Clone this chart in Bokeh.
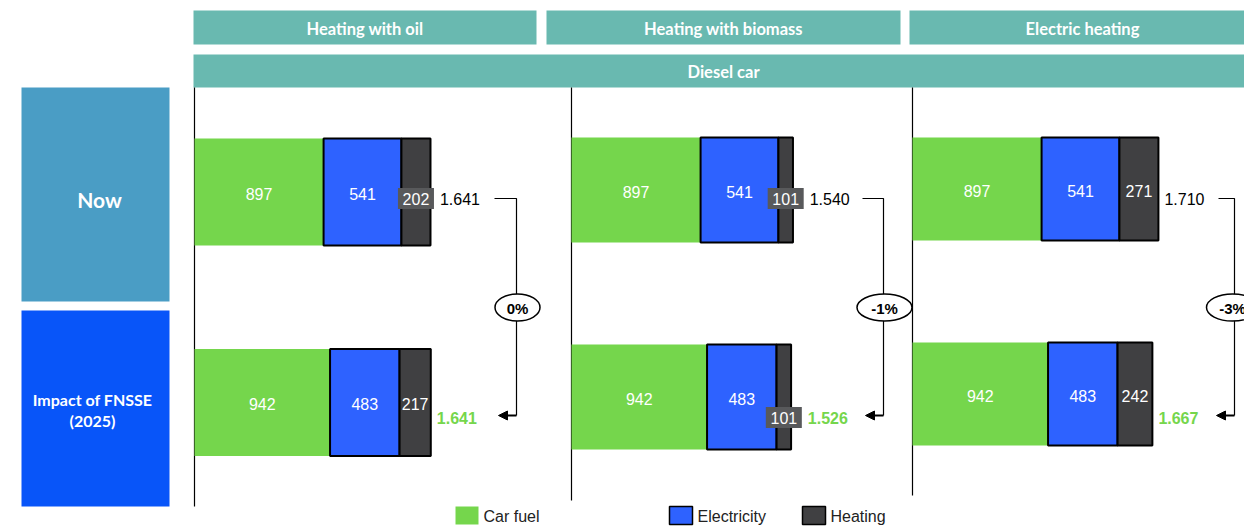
from bokeh.plotting import figure
from bokeh.models import Range1d, Arrow, NormalHead
from bokeh.core.properties import value
from bokeh.embed import file_html
from bokeh.resources import INLINE

# ---------------- data ----------------
panels = ["Heating with oil", "Heating with biomass", "Electric heating"]
group_label = "Diesel car"
rows = ["Now", "Impact of FNSSE\n(2025)"]
series = ["Car fuel", "Electricity", "Heating"]
car_fuel_now = [897, 897, 897]
electricity_now = [541, 541, 541]
heating_now = [202, 101, 271]
total_now = [1641, 1540, 1710]
car_fuel_2025 = [942, 942, 942]
electricity_2025 = [483, 483, 483]
heating_2025 = [217, 101, 242]
total_2025 = [1641, 1526, 1667]
change_labels = ["0%", "-1%", "-3%"]

# ---------------- styling / layout ----------------
GREEN = "#75d64c"
BLUE = "#2e62ff"
DARK = "#404042"
TEAL = "#69b9b0"
NOW_C = "#4a9dc5"
IMP_C = "#0855f9"
FONT = "Liberation Sans"
HFONT = "Lato"

W, H = 1244, 526
K = 0.1439          # pixels per unit of value
X0 = 194            # left edge of first panel in pixels


def X(px):
    return (px - X0) / K


panel_left_px = [194, 571, 912]
row_top_y = [191.5, 189.5, 188.5]
row_bot_y = [402.0, 396.5, 393.5]
bar_h = [107, 105, 103]

p = figure(width=W, height=H, x_range=Range1d(X(0), X(W)), y_range=Range1d(H, 0),
           output_backend="svg", toolbar_location=None, min_border=0,
           x_axis_type=None, y_axis_type=None)
p.grid.visible = False
p.outline_line_color = None
p.background_fill_color = "white"
p.border_fill_color = "white"


def txt(x, y, s, size=15, color="white", bold=False, align="center", font=FONT):
    p.text(x=[x], y=[y], text=[s], text_font=value(font), text_font_size=f"{size}px",
           text_color=color, text_font_style="bold" if bold else "normal",
           text_align=align, text_baseline="middle")


# header boxes
hdr = [(193, 536), (546, 900), (909, 1260)]
hdr_text_x = [364.5, 723, 1082]
for (a, b), name, tx in zip(hdr, panels, hdr_text_x):
    p.quad(left=[X(a)], right=[X(b)], top=[10], bottom=[44], fill_color=TEAL, line_color=None)
    txt(X(tx), 28, name, size=16.5, bold=True, font=HFONT)
p.quad(left=[X(193)], right=[X(1260)], top=[54], bottom=[87], fill_color=TEAL, line_color=None)
txt(X(723), 71, group_label, size=16.5, bold=True, font=HFONT)

# row boxes
p.quad(left=[X(21)], right=[X(169)], top=[87], bottom=[301], fill_color=NOW_C, line_color=None)
txt(X(99), 199, rows[0], size=21, font=HFONT, bold=True)
p.quad(left=[X(21)], right=[X(169)], top=[310], bottom=[506], fill_color=IMP_C, line_color=None)
r2 = rows[1].split("\n")
txt(X(92), 399, r2[0], size=16, bold=True, font=HFONT)
txt(X(92), 420, r2[1], size=16, bold=True, font=HFONT)

# panel separator lines
sep_bottom = [506, 500, 495]
for lx, bt in zip(panel_left_px, sep_bottom):
    p.segment(x0=[X(lx)], y0=[87], x1=[X(lx)], y1=[bt], line_color="black", line_width=1.2)

# bars
for i in range(3):
    off = X(panel_left_px[i])
    for (yc, cf, el, ht, tot, is_new) in [
        (row_top_y[i], car_fuel_now[i], electricity_now[i], heating_now[i], total_now[i], False),
        (row_bot_y[i], car_fuel_2025[i], electricity_2025[i], heating_2025[i], total_2025[i], True),
    ]:
        h = bar_h[i]
        a0, a1 = off, off + cf
        b1 = a1 + el
        c1 = b1 + ht
        p.hbar(y=[yc], left=[a0], right=[a1], height=h, fill_color=GREEN, line_color=None)
        p.hbar(y=[yc], left=[a1], right=[b1], height=h, fill_color=BLUE, line_color="black", line_width=2)
        p.hbar(y=[yc], left=[b1], right=[c1], height=h, fill_color=DARK, line_color="black", line_width=2)
        ty = 417 if is_new else 198
        txt((a0 + a1) / 2, yc + 1.5, f"{cf}", size=16)
        txt((a1 + b1) / 2, yc + 1.5, f"{el}", size=16)
        end_px = c1
        if ht < 210:
            hc = (b1 + c1) / 2
            p.rect(x=[hc], y=[ty], width=36 / K, height=21, fill_color="#58595b", line_color=None)
            txt(hc, ty, f"{ht}", size=16)
            end_px = max(c1, hc + 18 / K)
        else:
            txt((b1 + c1) / 2, yc + 1.5, f"{ht}", size=16)
        tot_s = f"{tot:,}".replace(",", ".")
        if is_new:
            txt(end_px + 6 / K, ty, tot_s, size=16, color=GREEN, bold=True, align="left")
        else:
            txt(end_px + 6 / K, ty, tot_s, size=16, color="black", align="left")

# connectors with change ovals
conn_start = [494, 862, 1218]
conn_x = [516, 883, 1234]
arrow_tip = [498, 865, 1216]
oval_x = [517, 884, 1232]
oval_w = [45, 55, 52]
for i in range(3):
    p.line(x=[X(conn_start[i]), X(conn_x[i]), X(conn_x[i])], y=[198, 198, 294],
           line_color="black", line_width=1.2)
    p.line(x=[X(conn_x[i]), X(conn_x[i])], y=[320, 415], line_color="black", line_width=1.2)
    p.add_layout(Arrow(end=NormalHead(size=9, fill_color="black", line_color="black"),
                       x_start=X(conn_x[i]), y_start=415, x_end=X(arrow_tip[i]), y_end=415,
                       line_color="black", line_width=2))
    p.ellipse(x=[X(oval_x[i])], y=[307], width=oval_w[i] / K, height=27,
              fill_color="white", line_color="black", line_width=1.5)
    txt(X(oval_x[i]), 308, change_labels[i], size=15, color="black", bold=True)

# legend
leg_x = [455, 669, 802]
leg_col = [GREEN, BLUE, DARK]
for lx, col, name in zip(leg_x, leg_col, series):
    p.quad(left=[X(lx)], right=[X(lx + 23)], top=[506], bottom=[524], fill_color=col,
           line_color=None if col == GREEN else "black", line_width=1.5)
    txt(X(lx + 28), 516, name, size=16, color="#222222", align="left")

open("out.html", "w").write(file_html(p, INLINE))
